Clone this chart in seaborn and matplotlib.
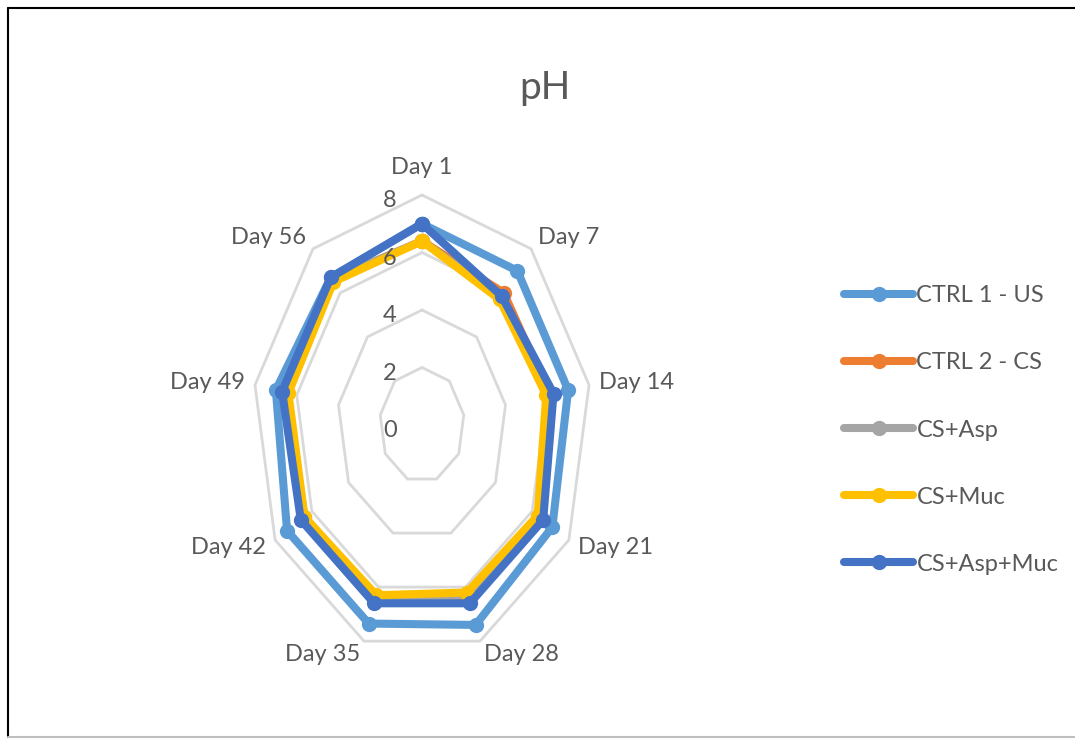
import seaborn as sns
import matplotlib.pyplot as plt
import numpy as np
import pandas as pd

days = ["Day 1", "Day 7", "Day 14", "Day 21", "Day 28", "Day 35", "Day 42", "Day 49", "Day 56"]
series = ["CTRL 1 - US", "CTRL 2 - CS", "CS+Asp", "CS+Muc", "CS+Asp+Muc"]
ctrl1_us = [7.0, 7.0, 7.0, 7.1, 7.4, 7.35, 7.35, 7.0, 6.7]
ctrl2_cs = [6.4, 6.0, 6.1, 6.4, 6.4, 6.5, 6.45, 6.5, 6.6]
cs_asp = [6.4, 5.8, 6.0, 6.4, 6.3, 6.4, 6.4, 6.5, 6.6]
cs_muc = [6.4, 5.7, 5.95, 6.3, 6.2, 6.3, 6.4, 6.4, 6.5]
cs_asp_muc = [7.0, 5.85, 6.3, 6.6, 6.6, 6.6, 6.6, 6.7, 6.7]
grid_levels = [0, 2, 4, 6, 8]

colors = ["#5B9BD5", "#ED7D31", "#A5A5A5", "#FFC000", "#4472C4"]
txt = "#595959"

sns.set_style("white")
plt.rcParams["font.family"] = ["Lato", "DejaVu Sans"]
fs = 17

angles = np.linspace(0, 2 * np.pi, len(days), endpoint=False)
ang_closed = np.append(angles, angles[0])

rows = []
for name, vals in zip(series, [ctrl1_us, ctrl2_cs, cs_asp, cs_muc, cs_asp_muc]):
    v = np.append(vals, vals[0])
    for i, (a, r) in enumerate(zip(ang_closed, v)):
        rows.append({"series": name, "order": i, "x": r * np.sin(a), "y": r * np.cos(a)})
df = pd.DataFrame(rows)

fig = plt.figure(figsize=(10.75, 7.4), dpi=100)
ax = fig.add_axes([210 / 1075, 27.5 / 740, 424 / 1075, 575 / 740])
ax.set_xlim(-10, 10)
ax.set_ylim(-10, 10)
ax.axis("off")

# grid polygons
for g in grid_levels[1:]:
    ax.plot(g * np.sin(ang_closed), g * np.cos(ang_closed), color="#D9D9D9", lw=2, zorder=1)

sns.lineplot(data=df, x="x", y="y", hue="series", hue_order=series, palette=colors,
             sort=False, estimator=None, marker="o", markersize=11, markeredgewidth=0,
             linewidth=5.8, ax=ax, zorder=3)

# category labels
for a, d in zip(angles, days):
    s, c = np.sin(a), np.cos(a)
    if abs(s) < 0.1:
        ax.text(8.6 * s, 8.6 * c, d, ha="center", va="bottom", fontsize=fs, color=txt)
    else:
        ax.text(8.5 * s, 8.5 * c, d, ha="left" if s > 0 else "right", va="center",
                fontsize=fs, color=txt)

# radial value labels
for g in grid_levels:
    ax.text(-1.2, g - 0.2, str(g), ha="right", va="center", fontsize=fs, color=txt)

handles, labels = ax.get_legend_handles_labels()
ax.legend(handles, labels, loc="center left", bbox_to_anchor=(835 / 1075, 310 / 740),
          bbox_transform=fig.transFigure, frameon=False, fontsize=fs, handlelength=2.9,
          handletextpad=0.15, labelspacing=1.95, borderaxespad=0, labelcolor=txt)

fig.text(545 / 1075, 652 / 740, "pH", ha="center", va="center", fontsize=28, color=txt)

# chart frame
fig.add_artist(plt.Line2D([8 / 1075, 8 / 1075], [3 / 740, 732 / 740], color="black", lw=1.5))
fig.add_artist(plt.Line2D([8 / 1075, 1], [732 / 740, 732 / 740], color="black", lw=1.5))
fig.add_artist(plt.Line2D([8 / 1075, 1], [3 / 740, 3 / 740], color="#BFBFBF", lw=1.5))

fig.savefig("out.png", dpi=100)
